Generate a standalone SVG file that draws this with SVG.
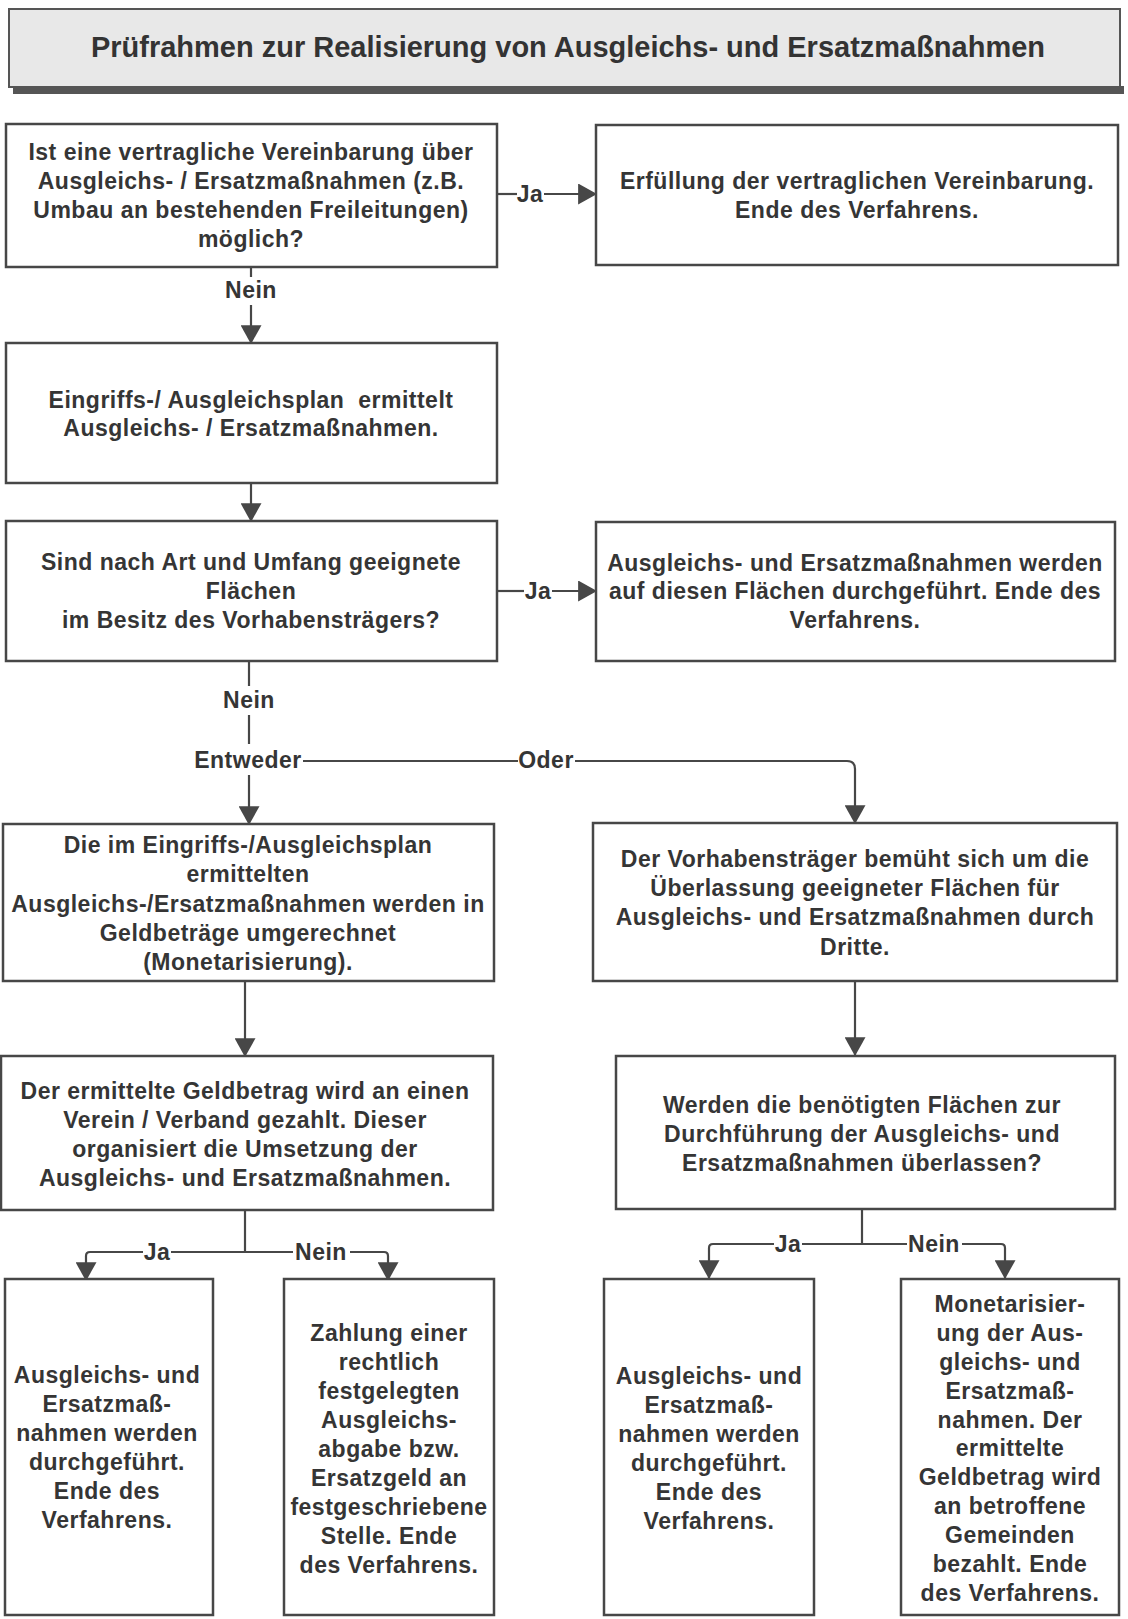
<svg xmlns="http://www.w3.org/2000/svg" width="1128" height="1619" viewBox="0 0 1128 1619">
<style>
.box{fill:#fff;stroke:#474747;stroke-width:2.5}
.t{font-family:"Liberation Sans",Arial,sans-serif;font-weight:bold;font-size:23px;letter-spacing:0.5px;fill:#353535;text-anchor:middle}
.c{fill:none;stroke:#474747;stroke-width:2.2}
</style>
<defs>
<marker id="ah" viewBox="0 0 18 20" refX="17" refY="10" markerWidth="19" markerHeight="21" markerUnits="userSpaceOnUse" orient="auto">
<path d="M0,0 L18,10 L0,20 z" fill="#474747"/>
</marker>
</defs>
<rect width="1128" height="1619" fill="#fff"/>
<g id="title">
<rect x="13" y="86" width="1111" height="8" fill="#555"/>
<rect x="9" y="9" width="1111" height="78" fill="#e8e8e8" stroke="#555" stroke-width="2"/>
<text x="568" y="57" font-family="'Liberation Sans',Arial,sans-serif" font-weight="bold" font-size="29" fill="#333" text-anchor="middle" textLength="954" lengthAdjust="spacingAndGlyphs">Prüfrahmen zur Realisierung von Ausgleichs- und Ersatzmaßnahmen</text>
</g>
<g id="connectors">
<line class="c" x1="497" y1="194" x2="517" y2="194"/>
<text class="t" x="530" y="202">Ja</text>
<line class="c" x1="544" y1="194" x2="596" y2="194" marker-end="url(#ah)"/>
<line class="c" x1="251" y1="267" x2="251" y2="277"/>
<text class="t" x="251" y="298">Nein</text>
<line class="c" x1="251" y1="305" x2="251" y2="343" marker-end="url(#ah)"/>
<line class="c" x1="251" y1="483" x2="251" y2="521" marker-end="url(#ah)"/>
<line class="c" x1="497" y1="591" x2="524" y2="591"/>
<text class="t" x="538" y="599">Ja</text>
<line class="c" x1="552" y1="591" x2="596" y2="591" marker-end="url(#ah)"/>
<line class="c" x1="249" y1="661" x2="249" y2="686"/>
<text class="t" x="249" y="708">Nein</text>
<line class="c" x1="249" y1="715" x2="249" y2="744"/>
<text class="t" x="248" y="768">Entweder</text>
<line class="c" x1="303" y1="761" x2="518" y2="761"/>
<text class="t" x="546" y="768">Oder</text>
<path class="c" d="M575,761 H847 Q855,761 855,769 V823" marker-end="url(#ah)"/>
<line class="c" x1="249" y1="775" x2="249" y2="824" marker-end="url(#ah)"/>
<line class="c" x1="245" y1="981" x2="245" y2="1056" marker-end="url(#ah)"/>
<line class="c" x1="855" y1="981" x2="855" y2="1055" marker-end="url(#ah)"/>
<line class="c" x1="245" y1="1210" x2="245" y2="1252"/>
<line class="c" x1="171" y1="1252" x2="293" y2="1252"/>
<text class="t" x="157" y="1260">Ja</text>
<path class="c" d="M143,1252 H90 Q86,1252 86,1256 V1280" marker-end="url(#ah)"/>
<text class="t" x="321" y="1260">Nein</text>
<path class="c" d="M350,1252 H384 Q388,1252 388,1256 V1280" marker-end="url(#ah)"/>
<line class="c" x1="862" y1="1209" x2="862" y2="1244"/>
<line class="c" x1="802" y1="1244" x2="907" y2="1244"/>
<text class="t" x="788" y="1252">Ja</text>
<path class="c" d="M774,1244 H713 Q709,1244 709,1248 V1278" marker-end="url(#ah)"/>
<text class="t" x="934" y="1252">Nein</text>
<path class="c" d="M962,1244 H1001 Q1005,1244 1005,1248 V1278" marker-end="url(#ah)"/>
</g>
<g id="n1">
<rect class="box" x="6" y="124" width="491" height="143"/>
<text class="t" x="251" y="160">Ist eine vertragliche Vereinbarung über</text>
<text class="t" x="251" y="189">Ausgleichs- / Ersatzmaßnahmen (z.B.</text>
<text class="t" x="251" y="218">Umbau an bestehenden Freileitungen)</text>
<text class="t" x="251" y="247">möglich?</text>
</g>
<g id="n2">
<rect class="box" x="596" y="125" width="522" height="140"/>
<text class="t" x="857" y="189">Erfüllung der vertraglichen Vereinbarung.</text>
<text class="t" x="857" y="218">Ende des Verfahrens.</text>
</g>
<g id="n3">
<rect class="box" x="6" y="343" width="491" height="140"/>
<text class="t" x="251" y="408" xml:space="preserve">Eingriffs-/ Ausgleichsplan  ermittelt</text>
<text class="t" x="251" y="436">Ausgleichs- / Ersatzmaßnahmen.</text>
</g>
<g id="n4">
<rect class="box" x="6" y="521" width="491" height="140"/>
<text class="t" x="251" y="570">Sind nach Art und Umfang geeignete</text>
<text class="t" x="251" y="599">Flächen</text>
<text class="t" x="251" y="628">im Besitz des Vorhabensträgers?</text>
</g>
<g id="n5">
<rect class="box" x="596" y="522" width="519" height="139"/>
<text class="t" x="855" y="571">Ausgleichs- und Ersatzmaßnahmen werden</text>
<text class="t" x="855" y="599">auf diesen Flächen durchgeführt. Ende des</text>
<text class="t" x="855" y="628">Verfahrens.</text>
</g>
<g id="n6">
<rect class="box" x="3" y="824" width="491" height="157"/>
<text class="t" x="248" y="853">Die im Eingriffs-/Ausgleichsplan</text>
<text class="t" x="248" y="882">ermittelten</text>
<text class="t" x="248" y="912">Ausgleichs-/Ersatzmaßnahmen werden in</text>
<text class="t" x="248" y="941">Geldbeträge umgerechnet</text>
<text class="t" x="248" y="970">(Monetarisierung).</text>
</g>
<g id="n7">
<rect class="box" x="593" y="823" width="524" height="158"/>
<text class="t" x="855" y="867">Der Vorhabensträger bemüht sich um die</text>
<text class="t" x="855" y="896">Überlassung geeigneter Flächen für</text>
<text class="t" x="855" y="925">Ausgleichs- und Ersatzmaßnahmen durch</text>
<text class="t" x="855" y="955">Dritte.</text>
</g>
<g id="n8">
<rect class="box" x="1" y="1056" width="492" height="154"/>
<text class="t" x="245" y="1099">Der ermittelte Geldbetrag wird an einen</text>
<text class="t" x="245" y="1128">Verein / Verband gezahlt. Dieser</text>
<text class="t" x="245" y="1157">organisiert die Umsetzung der</text>
<text class="t" x="245" y="1186">Ausgleichs- und Ersatzmaßnahmen.</text>
</g>
<g id="n9">
<rect class="box" x="616" y="1056" width="499" height="153"/>
<text class="t" x="862" y="1113">Werden die benötigten Flächen zur</text>
<text class="t" x="862" y="1142">Durchführung der Ausgleichs- und</text>
<text class="t" x="862" y="1171">Ersatzmaßnahmen überlassen?</text>
</g>
<g id="n10">
<rect class="box" x="5" y="1279" width="208" height="336"/>
<text class="t" x="107" y="1383">Ausgleichs- und</text>
<text class="t" x="107" y="1412">Ersatzmaß-</text>
<text class="t" x="107" y="1441">nahmen werden</text>
<text class="t" x="107" y="1470">durchgeführt.</text>
<text class="t" x="107" y="1499">Ende des</text>
<text class="t" x="107" y="1528">Verfahrens.</text>
</g>
<g id="n11">
<rect class="box" x="284" y="1279" width="210" height="336"/>
<text class="t" x="389" y="1341">Zahlung einer</text>
<text class="t" x="389" y="1370">rechtlich</text>
<text class="t" x="389" y="1399">festgelegten</text>
<text class="t" x="389" y="1428">Ausgleichs-</text>
<text class="t" x="389" y="1457">abgabe bzw.</text>
<text class="t" x="389" y="1486">Ersatzgeld an</text>
<text class="t" x="389" y="1515">festgeschriebene</text>
<text class="t" x="389" y="1544">Stelle. Ende</text>
<text class="t" x="389" y="1573">des Verfahrens.</text>
</g>
<g id="n12">
<rect class="box" x="604" y="1279" width="210" height="336"/>
<text class="t" x="709" y="1384">Ausgleichs- und</text>
<text class="t" x="709" y="1413">Ersatzmaß-</text>
<text class="t" x="709" y="1442">nahmen werden</text>
<text class="t" x="709" y="1471">durchgeführt.</text>
<text class="t" x="709" y="1500">Ende des</text>
<text class="t" x="709" y="1529">Verfahrens.</text>
</g>
<g id="n13">
<rect class="box" x="901" y="1279" width="218" height="336"/>
<text class="t" x="1010" y="1312">Monetarisier-</text>
<text class="t" x="1010" y="1341">ung der Aus-</text>
<text class="t" x="1010" y="1370">gleichs- und</text>
<text class="t" x="1010" y="1399">Ersatzmaß-</text>
<text class="t" x="1010" y="1428">nahmen. Der</text>
<text class="t" x="1010" y="1456">ermittelte</text>
<text class="t" x="1010" y="1485">Geldbetrag wird</text>
<text class="t" x="1010" y="1514">an betroffene</text>
<text class="t" x="1010" y="1543">Gemeinden</text>
<text class="t" x="1010" y="1572">bezahlt. Ende</text>
<text class="t" x="1010" y="1601">des Verfahrens.</text>
</g>
</svg>
